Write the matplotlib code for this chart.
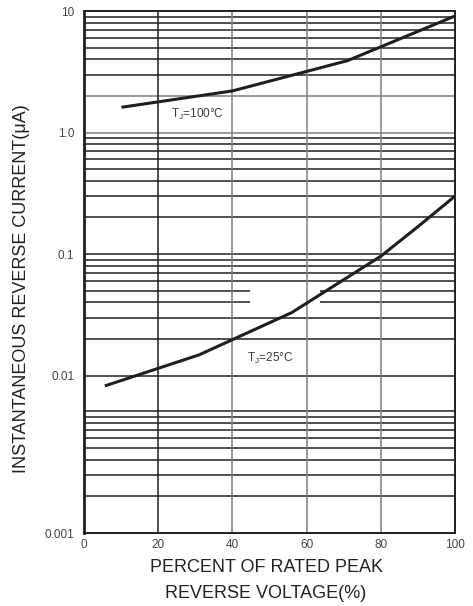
import matplotlib
matplotlib.use("Agg")
import matplotlib.pyplot as plt
import numpy as np

plt.rcParams["font.family"] = ["Liberation Sans", "DejaVu Sans"]

# curves (percent of rated peak reverse voltage, uA)
pct_100c = [10.5, 40, 71, 100]
ir_100c = [1.62, 2.2, 3.9, 9.1]
pct_25c = [6, 31, 56, 80, 90, 100]
ir_25c = [0.0083, 0.0148, 0.033, 0.096, 0.168, 0.30]

x_ticks = [0, 20, 40, 60, 80, 100]
x_labels = ["0", "20", "40", "60", "80", "100"]
y_labels = ["0.001", "0.01", "0.1", "1.0", "10"]

# the printed grid has an extra gap under the 0.01 line; lower decade sits lower
GAP = 10 ** (-36 / 122)
YMIN = 0.01 * 10 ** (-158 / 122)

DARK = "#1e1f24"
GREY = "#7d7f82"

fig = plt.figure(figsize=(4.73, 6.06), dpi=100)
ax = fig.add_axes([84 / 473, 73 / 606, 371 / 473, 522 / 606])
ax.set_yscale("log")
ax.set_xlim(0, 100)
ax.set_ylim(YMIN, 10)

# horizontal grid, upper three decades
for e in (-2, -1, 0):
    for k in range(1, 10):
        v = k * 10.0 ** e
        if np.isclose(v, 0.04) or np.isclose(v, 0.05):
            ax.hlines(v, 0, 44.7, color=DARK, lw=1.1, zorder=1)
            ax.hlines(v, 63.6, 100, color=DARK, lw=1.1, zorder=1)
            continue
        col = GREY if (np.isclose(v, 2) or np.isclose(v, 1)) else DARK
        ax.axhline(v, color=col, lw=1.1, zorder=1)

# lower decade, shifted down
for k in range(2, 11):
    ax.axhline(k * 0.001 * GAP, color=DARK, lw=1.1, zorder=1)

for xv in (20, 40, 60, 80):
    ax.axvline(xv, color=DARK if xv == 20 else GREY, lw=1.1, zorder=1)

ax.plot(pct_100c, ir_100c, color=DARK, lw=2.2, zorder=3)
ax.plot(pct_25c, ir_25c, color=DARK, lw=2.2, zorder=3)

ax.text(23.5, 1.41, "T$_\\mathregular{J}$=100°C", fontsize=8.5, color="#3a3a3a",
        va="center", ha="left")
ax.text(44.0, 0.0139, "T$_\\mathregular{J}$=25°C", fontsize=8.5, color="#3a3a3a",
        va="center", ha="left")

ax.set_xticks(x_ticks)
ax.set_xticklabels(x_labels)
ax.set_yticks([YMIN, 0.01, 0.1, 1, 10])
ax.set_yticklabels(y_labels)
ax.yaxis.set_minor_locator(matplotlib.ticker.NullLocator())
ax.tick_params(axis="both", length=0, labelsize=8.5, colors="#444444")
ax.tick_params(axis="x", pad=4)
ax.tick_params(axis="y", pad=7)

for s in ax.spines.values():
    s.set_color(DARK)
    s.set_linewidth(1.4)
ax.spines["left"].set_linewidth(2.0)

fig.text(266 / 473, 1 - 568 / 606, "PERCENT OF RATED PEAK", ha="center", va="center",
         fontsize=13, color="#222222")
fig.text(266 / 473, 1 - 593 / 606, "REVERSE VOLTAGE(%)", ha="center", va="center",
         fontsize=13, color="#222222")
fig.text(22 / 473, 1 - 289 / 606, "INSTANTANEOUS REVERSE CURRENT(\u03bcA)", rotation=90,
         ha="center", va="center", fontsize=13, color="#222222")

fig.savefig("out.png", dpi=100)
